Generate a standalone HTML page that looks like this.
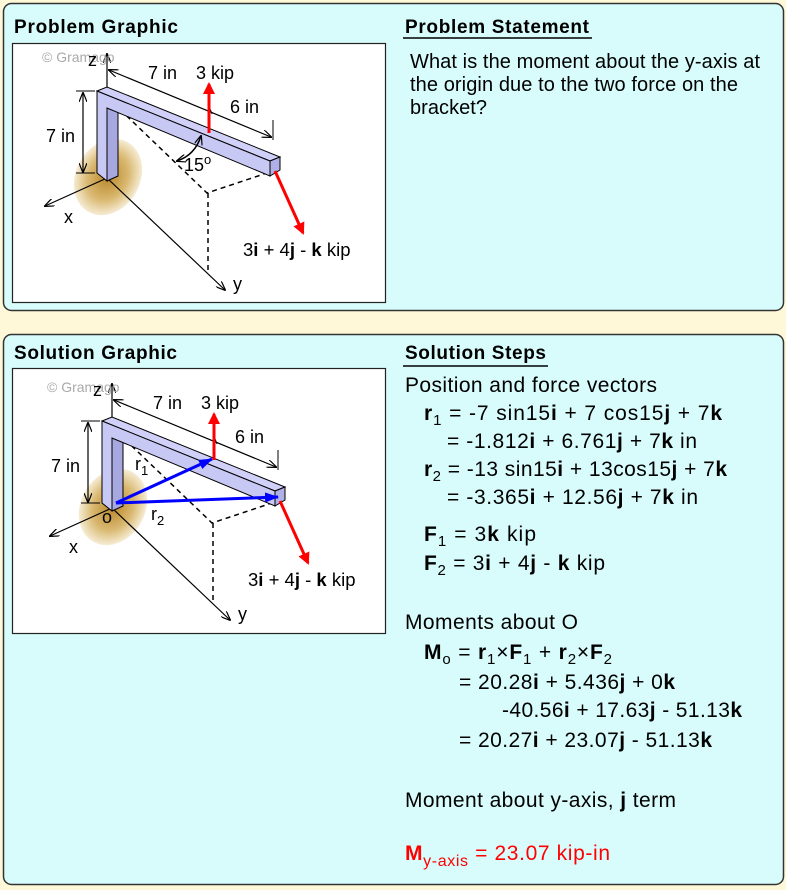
<!DOCTYPE html>
<html><head><meta charset="utf-8"><style>
html,body{margin:0;padding:0;background:#fff8d8;}
svg{display:block;font-family:"Liberation Sans",Arial,sans-serif;}
</style></head><body>
<svg width="786" height="890" viewBox="0 0 786 890" xmlns="http://www.w3.org/2000/svg">
<defs>
<radialGradient id="sh" cx="0.5" cy="0.5" r="0.5">
<stop offset="0" stop-color="#b8862a"/><stop offset="0.6" stop-color="#d9b870"/><stop offset="1" stop-color="#f6ecd4"/>
</radialGradient>
<marker id="ab" markerWidth="10" markerHeight="8" refX="9" refY="4" orient="auto" markerUnits="userSpaceOnUse"><path d="M0,0 L10,4 L0,8" fill="none" stroke="#000" stroke-width="1.2"/></marker>
<marker id="as" markerWidth="10" markerHeight="8" refX="1" refY="4" orient="auto" markerUnits="userSpaceOnUse"><path d="M10,0 L0,4 L10,8" fill="none" stroke="#000" stroke-width="1.2"/></marker>
<marker id="ar" markerWidth="12" markerHeight="12" refX="10" refY="6" orient="auto" markerUnits="userSpaceOnUse"><path d="M0,0 L12,6 L0,12 z" fill="#f00"/></marker>
<marker id="abl" markerWidth="14" markerHeight="10" refX="13" refY="5" orient="auto" markerUnits="userSpaceOnUse"><path d="M0,0 L14,5 L0,10 z" fill="#00f"/></marker>
<g id="fig">
<ellipse cx="108" cy="177" rx="32" ry="40" transform="rotate(30 108 177)" fill="url(#sh)"/>
<line x1="107" y1="178" x2="45" y2="206" stroke="#000" stroke-width="1.2" marker-end="url(#ab)"/>
<line x1="107" y1="178" x2="225" y2="290" stroke="#000" stroke-width="1.2" marker-end="url(#ab)"/>
<line x1="107" y1="88" x2="107" y2="54" stroke="#000" stroke-width="1.2" marker-end="url(#ab)"/>
<g fill="none" stroke="#000" stroke-width="1.5" stroke-dasharray="5,4">
<polyline points="107,97 207,193 270,172"/><line x1="208" y1="193" x2="208" y2="272"/>
</g>
<polygon points="107,108 118,112 118,176 107,181" fill="#a8a8e0" stroke="#000" stroke-width="1"/>
<polygon points="97,91 107,87 280,157 270,161" fill="#d0d0f8" stroke="#000" stroke-width="1"/>
<polygon points="97,91 270,161 270,176 107,108 107,181 97,173" fill="#c8c8f4" stroke="#000" stroke-width="1"/>
<polygon points="270,161 280,157 280,170 270,176" fill="#b0b0e8" stroke="#000" stroke-width="1"/>
<line x1="83" y1="93" x2="83" y2="172" stroke="#000" stroke-width="1.2" marker-start="url(#as)" marker-end="url(#ab)"/>
<line x1="76" y1="91" x2="95" y2="91" stroke="#000"/><line x1="76" y1="173" x2="95" y2="173" stroke="#000"/>
<line x1="109" y1="70" x2="271" y2="137" stroke="#000" stroke-width="1.2" marker-start="url(#as)" marker-end="url(#ab)"/>
<line x1="273" y1="120" x2="273" y2="140" stroke="#000"/>
<line x1="209" y1="106" x2="212" y2="114" stroke="#000"/>
<line x1="275" y1="171" x2="303" y2="233" stroke="#f00" stroke-width="3" marker-end="url(#ar)"/>
<text x="42" y="62" font-size="14" fill="#aaa">© Gramago</text>
<text x="88" y="66" font-size="18">z</text>
<text x="148" y="79" font-size="18">7 in</text>
<text x="46" y="142" font-size="18">7 in</text>
<text x="230" y="113" font-size="18">6 in</text>
<text x="64" y="223" font-size="18">x</text>
<text x="233" y="290" font-size="18">y</text>
<text x="243" y="256" font-size="18.5">3<tspan font-weight="bold">i</tspan> + 4<tspan font-weight="bold">j</tspan> - <tspan font-weight="bold">k</tspan> kip</text>
<text x="196" y="79" font-size="18">3 kip</text>
</g>
</defs>

<rect x="3.5" y="3.5" width="780" height="307" rx="8" fill="#d8fcfc" stroke="#333" stroke-width="1.5"/>
<rect x="3.5" y="334.5" width="780" height="550" rx="8" fill="#d8fcfc" stroke="#333" stroke-width="1.5"/>

<text x="14" y="33" font-size="19" font-weight="bold" textLength="164">Problem Graphic</text>
<text x="405" y="33" font-size="19" font-weight="bold" textLength="184">Problem Statement</text>
<line x1="403" y1="38" x2="592" y2="38" stroke="#000" stroke-width="1.5"/>
<text x="14" y="359" font-size="19" font-weight="bold" textLength="163">Solution Graphic</text>
<text x="405" y="359" font-size="19" font-weight="bold" textLength="141">Solution Steps</text>
<line x1="403" y1="366" x2="548" y2="366" stroke="#000" stroke-width="1.5"/>

<rect x="12.5" y="43.5" width="373" height="259" fill="#fff" stroke="#222" stroke-width="1.2"/>
<rect x="12.5" y="368.5" width="373" height="265" fill="#fff" stroke="#222" stroke-width="1.2"/>

<use href="#fig"/>
<line x1="209" y1="133" x2="209" y2="84" stroke="#f00" stroke-width="3" marker-end="url(#ar)"/>
<path d="M177,161 Q195,155 201,136" fill="none" stroke="#000" stroke-width="1.5" marker-start="url(#as)" marker-end="url(#ab)"/>
<text x="184" y="171" font-size="18">15<tspan font-size="13" dy="-7">o</tspan></text>

<g transform="translate(5,330)">
<use href="#fig"/>
<line x1="209" y1="130" x2="209" y2="84" stroke="#f00" stroke-width="3" marker-end="url(#ar)"/>
<line x1="111" y1="173" x2="207" y2="129" stroke="#00f" stroke-width="3" marker-end="url(#abl)"/>
<line x1="111" y1="173" x2="273" y2="167" stroke="#00f" stroke-width="3" marker-end="url(#abl)"/>
<text x="130" y="140" font-size="18">r<tspan font-size="13" dy="5">1</tspan></text>
<text x="146" y="190" font-size="18">r<tspan font-size="13" dy="5">2</tspan></text>
<text x="97" y="193" font-size="18">o</text>
</g>

<g font-size="20">
<text x="410" y="68" textLength="350">What is the moment about the y-axis at</text>
<text x="410" y="91" textLength="328">the origin due to the two force on the</text>
<text x="410" y="114" textLength="77">bracket?</text>
</g>
<g font-size="21">
<text x="405" y="392" textLength="252">Position and force vectors</text>
<text x="424" y="420" textLength="298"><tspan font-weight="bold">r</tspan><tspan font-size="15" dy="5">1</tspan><tspan dy="-5"> = -7 sin15</tspan><tspan font-weight="bold">i</tspan> + 7 cos15<tspan font-weight="bold">j</tspan> + 7<tspan font-weight="bold">k</tspan></text>
<text x="447" y="448" textLength="250">= -1.812<tspan font-weight="bold">i</tspan> + 6.761<tspan font-weight="bold">j</tspan> + 7<tspan font-weight="bold">k</tspan>  in</text>
<text x="424" y="476" textLength="303"><tspan font-weight="bold">r</tspan><tspan font-size="15" dy="5">2</tspan><tspan dy="-5"> = -13 sin15</tspan><tspan font-weight="bold">i</tspan> + 13cos15<tspan font-weight="bold">j</tspan> + 7<tspan font-weight="bold">k</tspan></text>
<text x="447" y="504" textLength="251">= -3.365<tspan font-weight="bold">i</tspan> + 12.56<tspan font-weight="bold">j</tspan> + 7<tspan font-weight="bold">k</tspan>  in</text>
<text x="424" y="541" textLength="112"><tspan font-weight="bold">F</tspan><tspan font-size="15" dy="5">1</tspan><tspan dy="-5"> = 3</tspan><tspan font-weight="bold">k</tspan>  kip</text>
<text x="424" y="570" textLength="181"><tspan font-weight="bold">F</tspan><tspan font-size="15" dy="5">2</tspan><tspan dy="-5"> = 3</tspan><tspan font-weight="bold">i</tspan> + 4<tspan font-weight="bold">j</tspan> - <tspan font-weight="bold">k</tspan>  kip</text>

<text x="405" y="629" textLength="173">Moments about O</text>
<text x="424" y="659" textLength="188"><tspan font-weight="bold">M</tspan><tspan font-size="15" dy="5">o</tspan><tspan dy="-5"> = </tspan><tspan font-weight="bold">r</tspan><tspan font-size="15" dy="5">1</tspan><tspan dy="-5">×</tspan><tspan font-weight="bold">F</tspan><tspan font-size="15" dy="5">1</tspan><tspan dy="-5"> + </tspan><tspan font-weight="bold">r</tspan><tspan font-size="15" dy="5">2</tspan><tspan dy="-5">×</tspan><tspan font-weight="bold">F</tspan><tspan font-size="15" dy="5">2</tspan></text>
<text x="459" y="689" textLength="216">= 20.28<tspan font-weight="bold">i</tspan> + 5.436<tspan font-weight="bold">j</tspan> + 0<tspan font-weight="bold">k</tspan></text>
<text x="502" y="717" textLength="240">-40.56<tspan font-weight="bold">i</tspan> + 17.63<tspan font-weight="bold">j</tspan> - 51.13<tspan font-weight="bold">k</tspan></text>
<text x="459" y="747" textLength="253">= 20.27<tspan font-weight="bold">i</tspan> + 23.07<tspan font-weight="bold">j</tspan> - 51.13<tspan font-weight="bold">k</tspan></text>

<text x="405" y="807" textLength="271">Moment about y-axis, <tspan font-weight="bold">j</tspan> term</text>
<text x="405" y="860" fill="#f00" textLength="205"><tspan font-weight="bold">M</tspan><tspan font-size="16" dy="6">y-axis</tspan><tspan dy="-6"> = 23.07 kip-in</tspan></text>
</g>
</svg>
</body></html>
